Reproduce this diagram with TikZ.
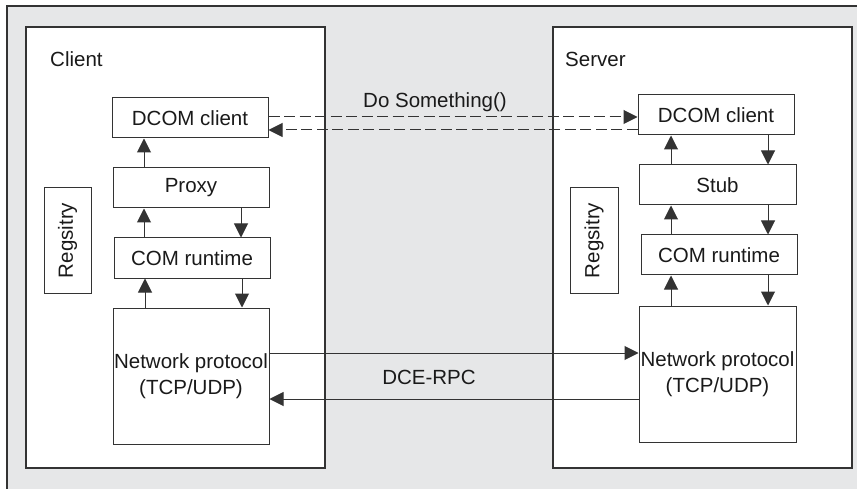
\documentclass[tikz,border=0pt]{standalone}
\usepackage{fontspec}
\setmainfont{Liberation Sans}
\usetikzlibrary{arrows.meta}
\definecolor{bggray}{HTML}{E6E7E8}
\definecolor{linegray}{HTML}{333333}
\definecolor{txt}{HTML}{1A1A1A}
\begin{document}
\begin{tikzpicture}[x=1pt,y=-1pt,
  box/.style={draw=linegray,line width=1pt,fill=white,inner sep=0pt,text=txt,font=\fontsize{20.5}{26}\selectfont,align=center},
  panel/.style={draw=linegray,line width=1.2pt,fill=white},
  lbl/.style={inner sep=0pt,text=txt,font=\fontsize{20.5}{26}\selectfont},
  arr/.style={draw=linegray,line width=1pt,-{Triangle[length=14pt,width=14pt]}},
  darr/.style={arr,dash pattern=on 11pt off 4.5pt}]
\useasboundingbox (0,0) rectangle (857,489);
\fill[bggray] (7,6) rectangle (857,489);
\draw[linegray,line width=1.2pt] (7,489) -- (7,6) -- (857,6);
% panels
\draw[panel] (26,27) rectangle (325,468);
\draw[panel] (553,27) rectangle (852,468);
\node[lbl,anchor=base west] (client) at (50,67) {Client};
\node[lbl,anchor=base west] (server) at (565,67) {Server};
% left boxes
\node[box,minimum width=156pt,minimum height=40pt] (ldcom) at (190,118) {DCOM client};
\node[box,minimum width=156pt,minimum height=40pt] (lproxy) at (191,188) {Proxy};
\node[box,minimum width=156pt,minimum height=40pt] (lcom) at (192,258) {COM runtime};
\node[box,minimum width=156pt,minimum height=136pt] (lnet) at (191,376) {Network protocol\\(TCP/UDP)};
\node[box,rotate=90,minimum width=105pt,minimum height=47pt] (lreg) at (67.5,240.5) {Regsitry};
% right boxes
\node[box,minimum width=156pt,minimum height=40pt] (rdcom) at (716,115) {DCOM client};
\node[box,minimum width=157pt,minimum height=40pt] (rstub) at (717.5,185) {Stub};
\node[box,minimum width=156pt,minimum height=40pt] (rcom) at (719,255) {COM runtime};
\node[box,minimum width=157pt,minimum height=136pt] (rnet) at (717.5,374) {Network protocol\\(TCP/UDP)};
\node[box,rotate=90,minimum width=105pt,minimum height=48pt] (rreg) at (594,240.5) {Regsitry};
% left vertical arrows
\draw[arr] (lproxy.north -| 144,0) -- (ldcom.south -| 144,0);
\draw[arr] (lcom.north -| 144,0) -- (lproxy.south -| 144,0);
\draw[arr] (lproxy.south -| 241,0) -- (lcom.north -| 241,0);
\draw[arr] (lnet.north -| 145,0) -- (lcom.south -| 145,0);
\draw[arr] (lcom.south -| 242,0) -- (lnet.north -| 242,0);
% right vertical arrows
\draw[arr] (rstub.north -| 671,0) -- (rdcom.south -| 671,0);
\draw[arr] (rdcom.south -| 768,0) -- (rstub.north -| 768,0);
\draw[arr] (rcom.north -| 671,0) -- (rstub.south -| 671,0);
\draw[arr] (rstub.south -| 768,0) -- (rcom.north -| 768,0);
\draw[arr] (rnet.north -| 671,0) -- (rcom.south -| 671,0);
\draw[arr] (rcom.south -| 768,0) -- (rnet.north -| 768,0);
% dashed calls
\draw[darr] (ldcom.east |- 0,117) -- (rdcom.west |- 0,117);
\draw[darr] (rdcom.west |- 0,130) -- (ldcom.east |- 0,130);
\node[lbl,anchor=base] (dosth) at (435,108) {Do Something()};
% DCE-RPC
\draw[arr] (lnet.east |- 0,353) -- (rnet.west |- 0,353);
\draw[arr] (rnet.west |- 0,399) -- (lnet.east |- 0,399);
\node[lbl,anchor=base] (dce) at (429,384) {DCE-RPC};
\end{tikzpicture}
\end{document}
